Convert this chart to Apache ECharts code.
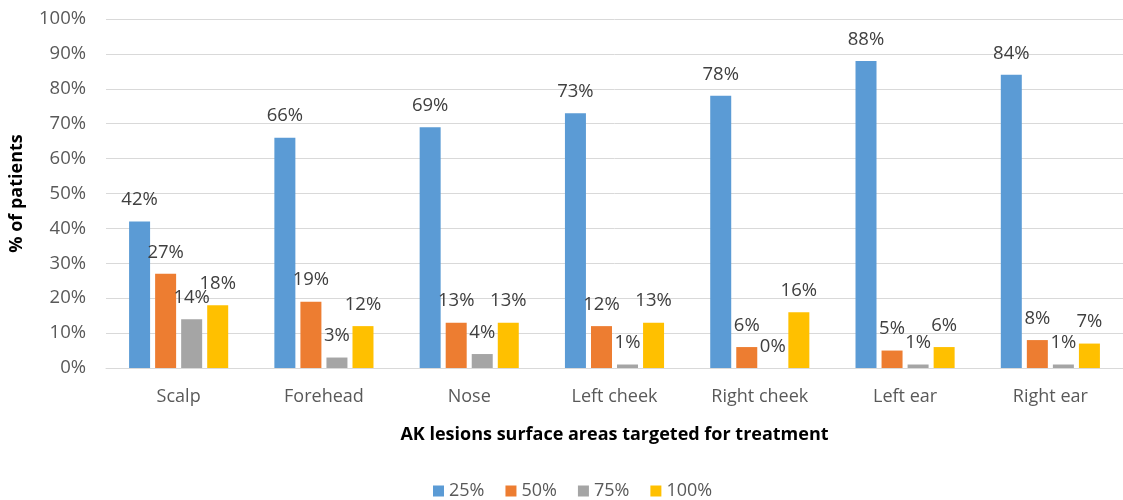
<!DOCTYPE html>
<html><head><meta charset="utf-8">
<script src="https://cdn.jsdelivr.net/npm/echarts@6/dist/echarts.min.js"></script>
<style>html,body{margin:0;padding:0;background:#fff}#c{width:1123px;height:500px}</style>
</head><body><div id="c"></div>
<script>
const categories = ['Scalp','Forehead','Nose','Left cheek','Right cheek','Left ear','Right ear'];
const s25 = [42,66,69,73,78,88,84];
const s50 = [27,19,13,12,6,5,8];
const s75 = [14,3,4,1,0,1,1];
const s100 = [18,12,13,13,16,6,7];
const seriesNames = ['25%','50%','75%','100%'];
const colors = ['#5B9BD5','#ED7D31','#A5A5A5','#FFC000'];
const yTicks = [0,10,20,30,40,50,60,70,80,90,100];

const FONT = '"Open Sans", sans-serif';
const chart = echarts.init(document.getElementById('c'));
const mk = (name, data, color) => ({
  name, type:'bar', data, barWidth:21, barGap:'24%',
  itemStyle:{color},
  label:{show:true, position:'top', distance:12, formatter:'{c}%', color:'#404040', fontSize:18.5, fontFamily:FONT},
  animation:false
});
chart.setOption({
  animation:false,
  color: colors,
  grid:{left:106, right:-8, top:19, bottom:132},
  legend:{
    data: seriesNames, left:428, top:477, itemWidth:11, itemHeight:11, itemGap:21,
    icon:'rect', textStyle:{color:'#595959', fontSize:18, fontFamily:FONT}
  },
  xAxis:{
    type:'category', data:categories,
    axisLine:{lineStyle:{color:'#D9D9D9'}}, axisTick:{show:false},
    axisLabel:{color:'#595959', fontSize:18, fontFamily:FONT, margin:20},
    name:'AK lesions surface areas targeted for treatment', nameLocation:'middle', nameGap:58,
    nameTextStyle:{color:'#000', fontWeight:'bold', fontSize:18, fontFamily:FONT}
  },
  yAxis:{
    type:'value', min:yTicks[0], max:yTicks[yTicks.length-1], interval:10,
    axisLabel:{formatter:'{value}%', color:'#595959', fontSize:18.5, fontFamily:FONT, margin:20},
    splitLine:{lineStyle:{color:'#D9D9D9'}},
    axisLine:{show:false}, axisTick:{show:false},
    name:'% of patients', nameLocation:'middle', nameGap:80,
    nameTextStyle:{color:'#000', fontWeight:'bold', fontSize:18, fontFamily:FONT}
  },
  series:[mk(seriesNames[0],s25,colors[0]), mk(seriesNames[1],s50,colors[1]), mk(seriesNames[2],s75,colors[2]), mk(seriesNames[3],s100,colors[3])]
});
</script></body></html>
